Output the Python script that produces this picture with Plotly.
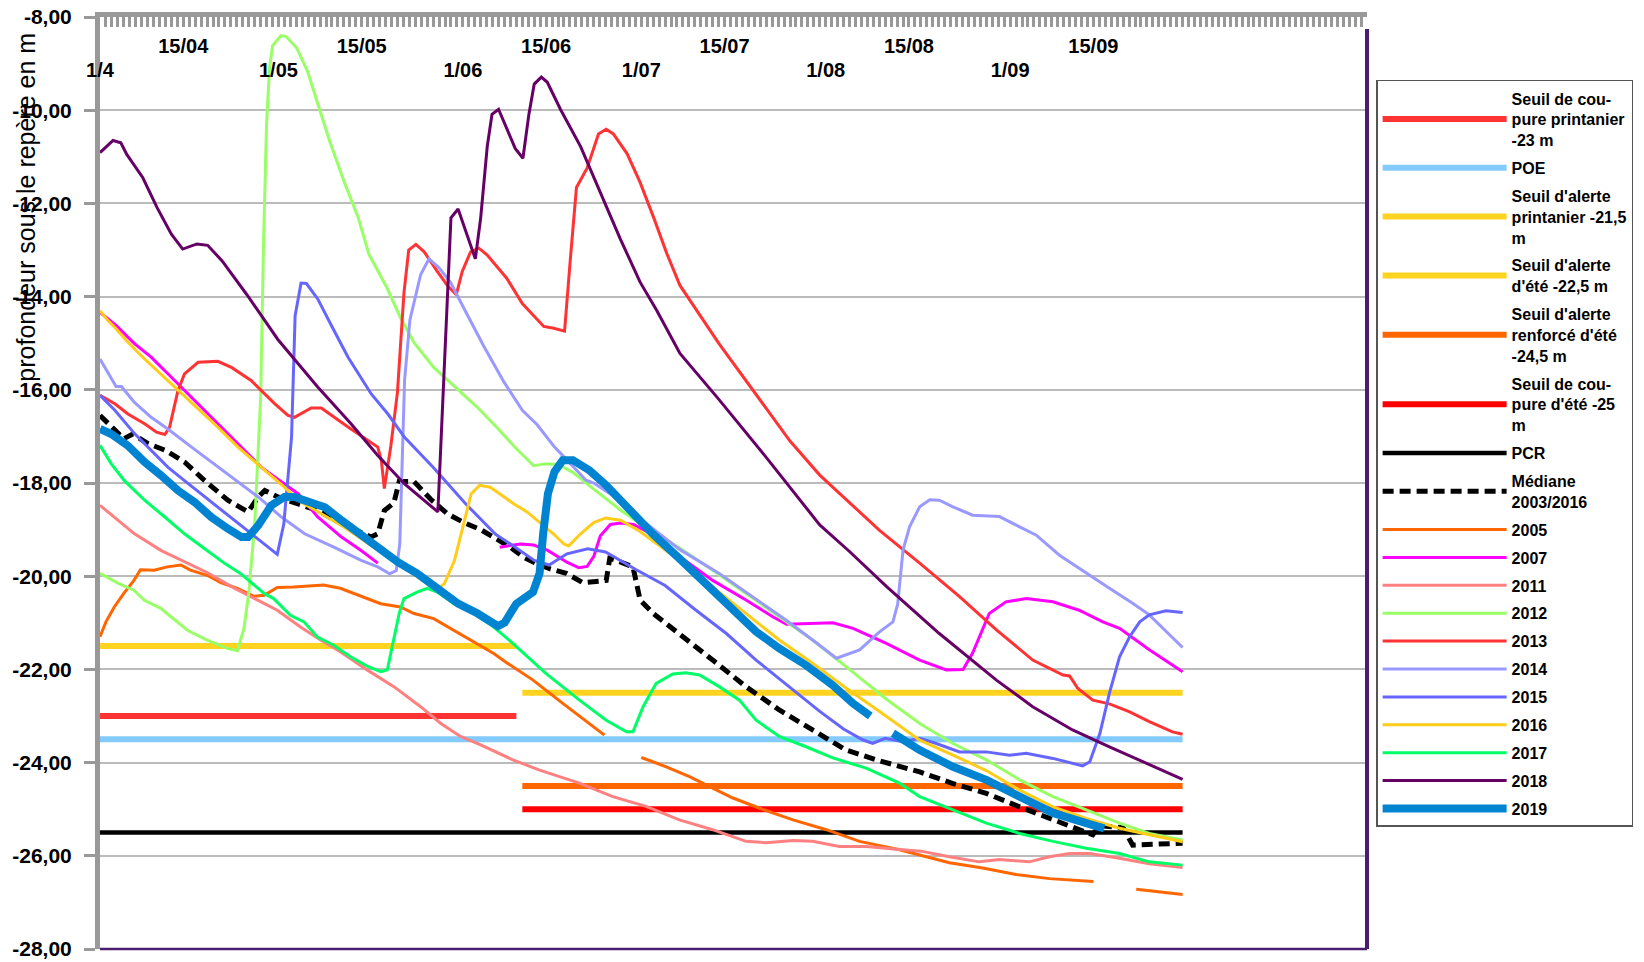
import plotly.graph_objects as go
import pandas as pd

# ---------------------------------------------------------------------------
# Données (jours comptés depuis le 1er avril, profondeur en m)
# ---------------------------------------------------------------------------
DEBUT = "2019-04-01"

j_2018 = [0, 2.2, 3.5, 4.5, 7.2, 9.6, 12, 13.9, 16.3, 18.1, 20.5, 24.7, 29.9, 36.6, 42.2, 46.7, 51.2, 56.8, 59.0, 60.2,
          63.1, 64.0, 65.1, 65.9, 67.0, 68.4, 69.8, 71.1, 72.1, 73.0, 74.2, 75.2, 77.4, 80.8, 84.1, 87.5, 90.8, 93.6, 97.5, 104,
          112, 121, 126, 132.2, 141.1, 150.7, 156.8, 163.5, 169.7, 176.4, 182]
v_2018 = [-10.91, -10.65, -10.7, -10.95, -11.45, -12.09, -12.66, -12.98, -12.87, -12.9, -13.23, -13.96, -14.92, -15.94, -16.73, -17.41, -18.02, -18.62, -12.31, -12.12,
          -13.19, -12.31, -10.78, -10.09, -9.98, -10.40, -10.82, -11.03, -10.09, -9.44, -9.29, -9.40, -9.98, -10.78, -11.78, -12.77, -13.69, -14.30, -15.22, -16.2,
          -17.45, -18.9, -19.47, -20.22, -21.23, -22.23, -22.80, -23.30, -23.66, -24.05, -24.36]

j_2013 = [0, 2.5, 4.7, 7.5, 9.5, 10.9, 11.7, 13.1, 14.2, 16.5, 19.8, 22.1, 25.4, 29.4, 31.6, 32.7, 35.5, 37.2, 41.7, 46.7,
          47.3, 47.8, 48.9, 50.0, 51.1, 51.9, 53.1, 54.5, 56.7, 58.4, 59.9, 60.9, 62.3, 63.7, 65.1, 68.4, 71.0, 72.9, 74.6, 76.3,
          78.1, 79.1, 80.1, 81.9, 83.8, 85.1, 86.3, 88.6, 90.8, 93.1, 95.3, 97.5, 104, 112, 116, 121, 131, 137.8, 144.5, 150.7,
          156.8, 161.9, 163, 164.4, 166.9, 169.7, 173.1, 176.4, 180.3, 182]
v_2013 = [-16.12, -16.30, -16.52, -16.73, -16.91, -16.96, -16.80, -16.02, -15.66, -15.41, -15.39, -15.52, -15.80, -16.30, -16.55, -16.59, -16.39, -16.39, -16.80, -17.23,
          -17.52, -18.12, -17.2, -16.06, -13.92, -13.0, -12.88, -13.04, -13.46, -13.76, -13.96, -13.46, -13.04, -12.96, -13.11, -13.61, -14.15, -14.41, -14.64, -14.68,
          -14.74, -13.15, -11.66, -11.24, -10.51, -10.41, -10.51, -10.93, -11.55, -12.31, -13.08, -13.76, -15.0, -16.4, -17.1, -17.83, -19.01, -19.72, -20.44, -21.15,
          -21.80, -22.12, -22.14, -22.41, -22.66, -22.74, -22.91, -23.12, -23.34, -23.39]

j_2012 = [0, 3, 5.7, 7.4, 10.2, 14.7, 18, 21.4, 23.1, 24.2, 25, 26, 27, 27.5, 28, 28.5, 29, 30.4, 31.3, 33.1,
          34.9, 36.7, 38.6, 41, 43.4, 45.2, 48.2, 50.5, 52.8, 56.1, 59.5, 63.4, 66.8, 69.6, 72.9, 74.8, 77, 79.6, 83, 87.5,
          91.9, 97.5, 103, 108.6, 114.2, 119.8, 126, 132, 137.8, 143.4, 149, 154.6, 160.2, 165.8, 171.4, 176.4, 182]
v_2012 = [-19.94, -20.15, -20.3, -20.51, -20.69, -21.16, -21.37, -21.55, -21.6, -21.12, -20.37, -18.9, -16.2, -12.8, -10.3, -9.1, -8.62, -8.40, -8.42, -8.67,
          -9.17, -9.88, -10.66, -11.52, -12.30, -13.09, -13.80, -14.45, -14.99, -15.52, -15.91, -16.37, -16.82, -17.21, -17.63, -17.59, -17.6, -17.78, -18.13, -18.58,
          -18.97, -19.40, -19.87, -20.37, -20.87, -21.37, -22.0, -22.62, -23.16, -23.59, -23.94, -24.37, -24.73, -25.02, -25.30, -25.52, -25.66]

j_2014 = [0, 0.8, 2.7, 3.6, 5.8, 8.6, 11.4, 15.4, 18.7, 22.6, 26.6, 30.5, 34.4, 39.4, 43.9, 46.7, 48.7, 49.8, 50.4, 51.2,
          52.1, 53.9, 55.3, 57, 58.9, 61.7, 64.5, 67.9, 71, 73.5, 76.3, 78, 81.7, 83, 86.3, 89.7, 93.6, 97.5, 104.1, 109.7,
          115.3, 119.8, 123.8, 127.7, 131, 133.3, 134.1, 135, 136.1, 137.8, 139.5, 141.1, 143.4, 146.7, 151.2, 154.6, 157.4, 161.3, 165.8, 169.7,
          173.6, 176.4, 182]
v_2014 = [-15.34, -15.52, -15.93, -15.93, -16.27, -16.59, -16.84, -17.23, -17.55, -17.91, -18.30, -18.73, -19.09, -19.38, -19.66, -19.80, -19.95, -19.88, -19.3, -15.8,
          -14.5, -13.53, -13.19, -13.38, -13.69, -14.38, -15.06, -15.83, -16.44, -16.75, -17.21, -17.44, -17.94, -18.0, -18.28, -18.66, -19.04, -19.43, -19.94, -20.44,
          -20.94, -21.37, -21.76, -21.58, -21.2, -20.98, -20.6, -19.44, -18.94, -18.51, -18.36, -18.37, -18.51, -18.69, -18.72, -18.94, -19.12, -19.55, -19.94, -20.26,
          -20.58, -20.83, -21.53]

j_2015 = [0, 2.5, 5.8, 8.6, 11.4, 14.2, 17, 19.8, 22.6, 25.4, 27.7, 29.8, 30.9, 32.2, 32.8, 33.8, 34.7, 36.6, 38.9, 41.7,
          45.6, 48.4, 51.2, 56, 61.5, 66.5, 69.5, 73, 75.5, 78.5, 82, 85, 90, 95, 100.2, 105.3, 110.3, 115.9, 121, 125,
          128.2, 129.9, 132, 135, 137.8, 140.6, 144.5, 149, 152.9, 155.7, 160.2, 165.2, 166.4, 168.1, 169.7, 171.4, 173.1, 174.8, 176.4, 179.2,
          182]
v_2015 = [-16.12, -16.44, -16.94, -17.30, -17.66, -17.95, -18.23, -18.52, -18.80, -19.09, -19.30, -19.53, -18.88, -17.02, -14.41, -13.71, -13.72, -14.05, -14.62, -15.30,
          -16.09, -16.52, -17.02, -17.66, -18.45, -19.1, -19.35, -19.66, -19.76, -19.52, -19.41, -19.48, -19.85, -20.2, -20.73, -21.23, -21.80, -22.37, -22.90, -23.28,
          -23.51, -23.59, -23.48, -23.55, -23.48, -23.59, -23.77, -23.77, -23.84, -23.80, -23.91, -24.07, -23.98, -23.37, -22.51, -21.73, -21.30, -20.98, -20.83, -20.74,
          -20.78]

j_2016 = [0, 1.3, 2.7, 4.7, 7.5, 11.4, 15.4, 19.8, 23.2, 27.1, 31, 33.3, 36.6, 41.1, 45.1, 51, 56.5, 57.9, 59.6, 61.3,
          62.4, 63.8, 65.6, 67.3, 69.6, 71.8, 74, 76.3, 78, 78.8, 80.7, 83, 85, 87.5, 90.8, 94.2, 97.5, 103, 108.6, 114.2,
          119.8, 125.4, 131, 137.8, 143.4, 149, 154.6, 160.2, 165.8, 171.4, 176.4, 182]
v_2016 = [-14.30, -14.51, -14.69, -14.98, -15.34, -15.80, -16.27, -16.80, -17.23, -17.66, -18.09, -18.37, -18.62, -18.95, -19.30, -19.8, -20.3, -20.16, -19.66, -18.80,
          -18.23, -18.05, -18.09, -18.24, -18.45, -18.62, -18.85, -19.1, -19.31, -19.35, -19.1, -18.85, -18.75, -18.8, -19.04, -19.35, -19.67, -20.23, -20.8, -21.37,
          -21.87, -22.4, -22.9, -23.52, -23.84, -24.17, -24.59, -24.95, -25.2, -25.41, -25.55, -25.7]

j_2007 = [0, 2.7, 5.8, 8.6, 12, 15.9, 19.8, 23.2, 27.1, 31, 33.3, 36.6, 40.6, 43.9, 46.7, None, 67.2, 68.4, 70.7, 72.9,
          75.2, 78.5, 80.5, 81.9, 83, 84.1, 85.8, 87.5, 89.7, 93.1, 97.5, 103, 108.6, 113.1, 115.4, 119.8, 123.2, 126.6, 132.2, 137.8,
          142.3, 145.1, 146.7, 149.5, 152.3, 155.7, 160.2, 164.6, 168.6, 171.4, 176.4, 182]
v_2007 = [-14.34, -14.62, -15.01, -15.30, -15.73, -16.23, -16.73, -17.16, -17.66, -18.02, -18.23, -18.73, -19.16, -19.45, -19.72, None, -19.38, -19.35, -19.31, -19.33,
          -19.44, -19.70, -19.82, -19.79, -19.58, -19.14, -18.89, -18.86, -18.89, -19.12, -19.58, -20.09, -20.51, -20.87, -21.03, -21.01, -21.0, -21.12, -21.44, -21.80,
          -22.01, -22.0, -21.65, -20.80, -20.55, -20.48, -20.55, -20.73, -20.98, -21.12, -21.58, -22.05]

j_2017 = [0, 1.9, 4.1, 7.5, 10.9, 14.2, 17.6, 21, 23.6, 27.6, 29.2, 32, 34.3, 36.5, 39.3, 42.1, 44.9, 47.2, 48.3, 49.4,
          50.3, 51.1, 53.3, 55, 56.7, 59.5, 62.9, 66.2, 69.4, 75, 80.6, 85.1, 88.5, 89.6, 91.3, 93.5, 96.3, 98.5, 100.8, 104.1,
          107.5, 110.3, 114.2, 118.7, 123.2, 128.8, 134.4, 137.8, 143.4, 149, 154.6, 160.2, 165.8, 171.4, 176.4, 182]
v_2017 = [-17.19, -17.59, -17.95, -18.37, -18.73, -19.09, -19.41, -19.73, -19.94, -20.37, -20.48, -20.84, -20.98, -21.3, -21.48, -21.73, -21.93, -22.05, -22.01, -21.37,
          -20.8, -20.48, -20.34, -20.26, -20.34, -20.59, -20.8, -21.09, -21.44, -22.09, -22.66, -23.09, -23.34, -23.34, -22.8, -22.3, -22.1, -22.07, -22.12, -22.37,
          -22.66, -23.09, -23.44, -23.66, -23.9, -24.12, -24.44, -24.73, -25.02, -25.30, -25.52, -25.69, -25.84, -25.95, -26.13, -26.2]

j_2011 = [0, 3, 5.8, 10.3, 13.7, 18, 22.5, 25.9, 29.8, 33.7, 37.1, 40.4, 44.9, 49.4, 53.9, 57.3, 60.6, 64, 69.4, 73.9,
          80.6, 86.2, 91.8, 97.4, 103, 108.6, 112, 116.5, 119.8, 124.3, 128.8, 133, 138, 142.8, 147.8, 151.2, 156.2, 159.6, 163, 166.4,
          170.9, 176.4, 182]
v_2011 = [-18.48, -18.80, -19.09, -19.45, -19.66, -19.92, -20.25, -20.48, -20.73, -21.09, -21.37, -21.62, -22.01, -22.37, -22.8, -23.16, -23.44, -23.62, -23.94, -24.16,
          -24.44, -24.73, -24.94, -25.23, -25.44, -25.69, -25.72, -25.67, -25.69, -25.8, -25.8, -25.85, -25.9, -26.02, -26.13, -26.08, -26.13, -26.02, -25.95, -25.95,
          -26.04, -26.17, -26.25]

j_2005 = [0, 1, 2.4, 4, 5.7, 6.8, 9.1, 11.3, 13.6, 15.2, 18, 20.3, 23.1, 25.9, 27.6, 29.8, 32.6, 35.4, 37.6, 40.4,
          43.8, 47.2, 50.5, 52.8, 56.1, 59.5, 62.9, 66.2, 68.3, 72.8, 77.8, 82.3, 84.8, None, 91, 95.2, 99.1, 103, 106.4, 110.9,
          116.5, 122.1, 127.7, 134.4, 138.5, 142.8, 148.4, 154, 159.6, 166.4, 167, None, 174.2, 182]
v_2005 = [-21.3, -20.98, -20.66, -20.37, -20.09, -19.86, -19.87, -19.8, -19.76, -19.87, -19.98, -20.14, -20.26, -20.43, -20.41, -20.24, -20.23, -20.21, -20.19, -20.26,
          -20.43, -20.59, -20.66, -20.8, -20.91, -21.16, -21.4, -21.66, -21.85, -22.23, -22.73, -23.16, -23.41, None, -23.89, -24.09, -24.3, -24.55, -24.76, -24.98,
          -25.23, -25.44, -25.69, -25.87, -26.0, -26.15, -26.26, -26.4, -26.49, -26.54, -26.55, None, -26.72, -26.83]

j_2019 = [0, 1.9, 4.7, 7.5, 10.3, 13.1, 15.9, 18.7, 21.5, 23.8, 24.9, 26.6, 28.8, 31, 32.7, 35.5, 37.8, 40.6, 43.4, 46.7,
          50.1, 53.4, 56.8, 60.2, 63.5, 66.9, 68, 70, 72.8, 73.9, 74.5, 75.3, 76.4, 77.8, 79.5, 82.3, 85.1, 88.5, 92.9, 97.4,
          101.9, 106.4, 110.3, 114.2, 118.7, 123.2, 126.6, 129.5, None, 133.3, 137.8, 143.4, 149, 154.6, 160.2, 165.8, 168.8]
v_2019 = [-16.84, -16.95, -17.2, -17.55, -17.84, -18.16, -18.41, -18.73, -18.98, -19.16, -19.16, -18.91, -18.48, -18.30, -18.30, -18.41, -18.52, -18.80, -19.09, -19.38,
          -19.70, -19.95, -20.27, -20.59, -20.80, -21.07, -21.0, -20.59, -20.34, -19.94, -19.09, -18.23, -17.76, -17.51, -17.51, -17.73, -18.05, -18.51, -19.09, -19.62,
          -20.16, -20.73, -21.19, -21.55, -21.91, -22.34, -22.73, -23.0, None, -23.37, -23.73, -24.09, -24.37, -24.73, -25.08, -25.3, -25.41]

j_med = [0, 2, 4, 5.5, 8, 11, 14.2, 17.6, 21.5, 24.9, 26.6, 27.7, 29.9, 33.3, 36.6, 41.1, 45.6, 46.7, 47.8, 49.4,
         50.3, 52.8, 55.6, 58.4, 61.2, 64, 66.9, 68.9, 71.2, 73.4, 75.6, 78.4, 81.2, 83.4, 85.1, 85.7, 86.8, 89.6, 90.8, 93,
         97.4, 103, 108.6, 114.2, 119.8, 125.4, 131, 134.4, 137.8, 143.4, 149, 154.6, 160.2, 166.9, 168, 172, 173.6, 182]
v_med = [-16.55, -16.8, -17.05, -16.95, -17.15, -17.30, -17.55, -17.95, -18.37, -18.62, -18.30, -18.16, -18.30, -18.45, -18.59, -18.91, -19.16, -19.09, -18.59, -18.43,
         -17.97, -17.97, -18.35, -18.66, -18.85, -19.0, -19.23, -19.37, -19.59, -19.73, -19.84, -19.94, -20.14, -20.12, -20.09, -19.62, -19.66, -19.8, -20.51, -20.8,
         -21.23, -21.8, -22.37, -22.87, -23.3, -23.73, -23.96, -24.09, -24.2, -24.45, -24.66, -24.95, -25.23, -25.55, -25.35, -25.4, -25.77, -25.73]

# Seuils : nom, valeur, jour de début, jour de fin, couleur, épaisseur
seuil_noms = ["Seuil de cou-<br>pure printanier<br>-23 m", "POE", "Seuil d'alerte<br>printanier -21,5<br>m",
              "Seuil d'alerte<br>d'été -22,5 m", "Seuil d'alerte<br>renforcé d'été<br>-24,5 m",
              "Seuil de cou-<br>pure d'été -25<br>m", "PCR"]
seuil_valeurs = [-23.0, -23.5, -21.5, -22.5, -24.5, -25.0, -25.5]
seuil_debut = [0, 0, 0, 71, 71, 71, 0]
seuil_fin = [70, 182, 70, 182, 182, 182, 182]
seuil_couleurs = ["#ff3333", "#83caff", "#ffd320", "#ffd320", "#ff6600", "#ff0000", "#000000"]
seuil_epaisseurs = [6, 6, 6, 6, 6, 6, 4.5]

annees = ["2005", "2007", "2011", "2012", "2013", "2014", "2015", "2016", "2017", "2018", "2019"]
annees_j = [j_2005, j_2007, j_2011, j_2012, j_2013, j_2014, j_2015, j_2016, j_2017, j_2018, j_2019]
annees_v = [v_2005, v_2007, v_2011, v_2012, v_2013, v_2014, v_2015, v_2016, v_2017, v_2018, v_2019]
annees_couleurs = ["#ff6600", "#ff00ff", "#ff8080", "#99ff66", "#ff3333", "#9999ff", "#6666ff", "#ffcc1a", "#00ff66", "#660066", "#0084d1"]
annees_epaisseurs = [3, 3, 3, 3, 3, 3, 3, 3, 3, 3, 8]

ticks_15_j = [14, 44, 75, 105, 136, 167]
ticks_15_txt = ["15/04", "15/05", "15/06", "15/07", "15/08", "15/09"]
ticks_1_j = [0, 30, 61, 91, 122, 153]
ticks_1_txt = ["1/4", "1/05", "1/06", "1/07", "1/08", "1/09"]
ticks_y = [-8, -10, -12, -14, -16, -18, -20, -22, -24, -26, -28]
ticks_y_txt = ["-8,00", "-10,00", "-12,00", "-14,00", "-16,00", "-18,00", "-20,00", "-22,00", "-24,00", "-26,00", "-28,00"]

# ---------------------------------------------------------------------------
base = pd.Timestamp(DEBUT)


def dates(jours):
    return [None if j is None else base + pd.Timedelta(days=j) for j in jours]


FONT = "Liberation Sans, Arial, sans-serif"
fig = go.Figure()

for i, nom in enumerate(seuil_noms):
    fig.add_trace(go.Scatter(
        x=dates([seuil_debut[i], seuil_fin[i]]), y=[seuil_valeurs[i], seuil_valeurs[i]],
        mode="lines", name=nom, legendgroup=f"s{i}",
        line=dict(color=seuil_couleurs[i], width=seuil_epaisseurs[i])))

fig.add_trace(go.Scatter(
    x=dates(j_med), y=v_med, mode="lines", name="Médiane<br>2003/2016", legendgroup="med",
    line=dict(color="#000000", width=5, dash="11px,6px")))

for i, an in enumerate(annees):
    fig.add_trace(go.Scatter(
        x=dates(annees_j[i]), y=annees_v[i], mode="lines", name=an, legendgroup=an,
        connectgaps=False,
        line=dict(color=annees_couleurs[i], width=annees_epaisseurs[i])))

x_range = [base, base + pd.Timedelta(days=213)]

# trace vide rattachée au second axe des dates (rangée « 1/xx ») pour qu'il soit dessiné
fig.add_trace(go.Scatter(x=x_range, y=[None, None], xaxis="x2", yaxis="y", mode="lines",
                         showlegend=False, hoverinfo="skip"))

GRIS = "#999999"

fig.update_layout(
    width=1644, height=962,
    margin=dict(l=100, r=277, t=17, b=13, autoexpand=False),
    paper_bgcolor="white", plot_bgcolor="white",
    font=dict(family=FONT, color="black"),
    hovermode=False,
    showlegend=True,
    legend=dict(x=1.0072, xanchor="left", y=0.9325, yanchor="top",
                bgcolor="white", bordercolor="#555555", borderwidth=1.5,
                font=dict(family=FONT, size=16, color="black", weight="bold"),
                tracegroupgap=4.1, itemwidth=124, traceorder="grouped"),
    xaxis=dict(type="date", side="top", range=x_range, automargin=False,
               tickmode="array", tickvals=dates(ticks_15_j), ticktext=ticks_15_txt,
               ticks="inside", ticklen=10, tickwidth=3, tickcolor=GRIS,
               showline=True, linecolor=GRIS, linewidth=5,
               showgrid=False, zeroline=False,
               ticklabelposition="inside", ticklabeloverflow="allow", ticklabelstandoff=13,
               tickfont=dict(family=FONT, size=20, color="black", weight="bold"),
               minor=dict(dtick=86400000, tick0=DEBUT, ticks="inside", ticklen=10, tickwidth=3,
                          tickcolor=GRIS, showgrid=False)),
    xaxis2=dict(type="date", side="top", overlaying="x", anchor="y", range=x_range, automargin=False,
                tickmode="array", tickvals=dates(ticks_1_j), ticktext=ticks_1_txt,
                ticks="", showline=False, showgrid=False, zeroline=False,
                ticklabelposition="inside", ticklabeloverflow="allow", ticklabelstandoff=43,
                tickfont=dict(family=FONT, size=20, color="black", weight="bold")),
    yaxis=dict(range=[-28, -8], automargin=False,
               tickmode="array", tickvals=ticks_y, ticktext=ticks_y_txt,
               ticks="outside", ticklen=11, tickwidth=3, tickcolor=GRIS,
               showline=True, linecolor=GRIS, linewidth=5,
               showgrid=True, gridcolor="#bbbbbb", gridwidth=1.5, zeroline=False,
               ticklabelstandoff=8, ticklabeloverflow="allow",
               tickfont=dict(family=FONT, size=21, color="black", weight="bold")),
    shapes=[
        dict(type="line", xref="paper", yref="paper", x0=1, x1=1, y0=0, y1=0.987,
             line=dict(color="#4b1c70", width=4), layer="above"),
        dict(type="line", xref="paper", yref="paper", x0=0, x1=1, y0=0, y1=0,
             line=dict(color="#4b1c70", width=2.5), layer="above"),
    ],
    annotations=[
        dict(text="profondeur sous le repère en m", xref="paper", yref="paper",
             x=-0.058, y=0.796, xanchor="center", yanchor="middle", textangle=-90,
             showarrow=False, font=dict(family=FONT, size=25, color="black")),
    ],
)

fig.write_html("out.html", config={"displayModeBar": False},
               post_script="document.body.style.margin='0';")
